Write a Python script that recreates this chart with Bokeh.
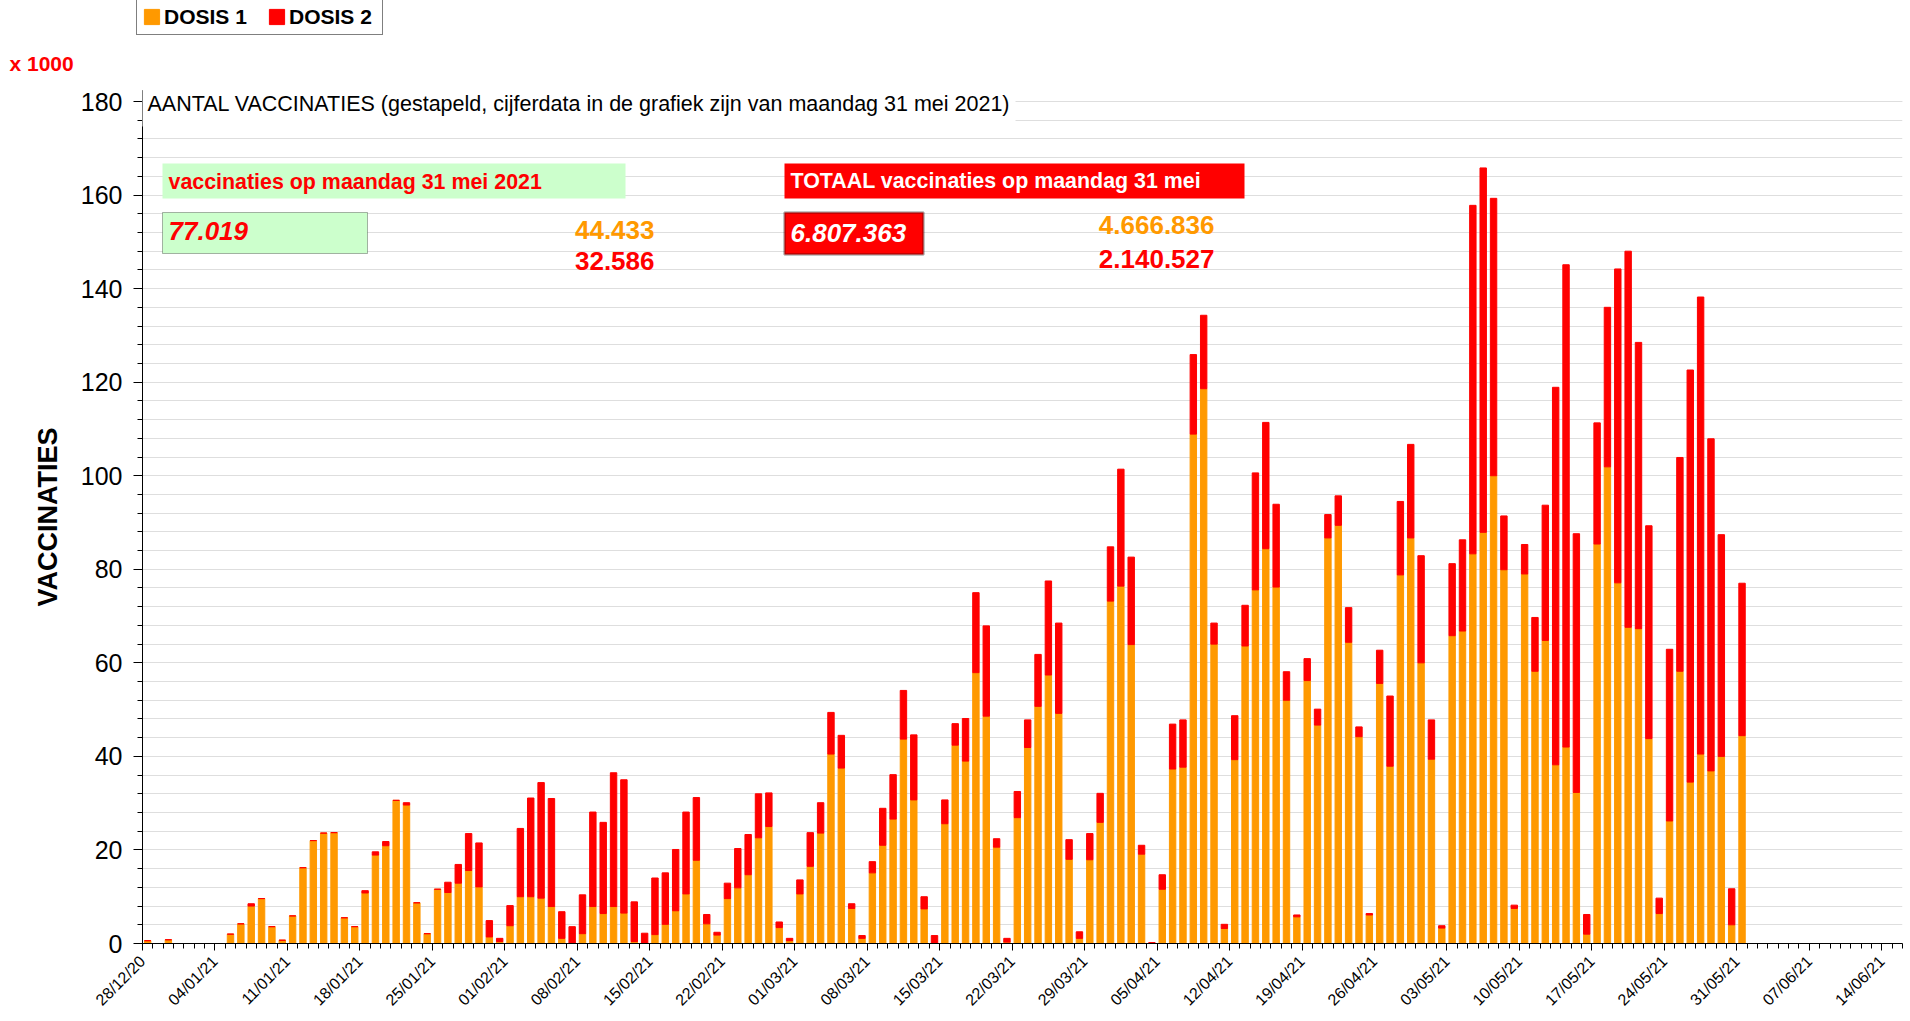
import math
from bokeh.plotting import figure
from bokeh.layouts import column
from bokeh.models import (ColumnDataSource, FixedTicker, Label, BoxAnnotation, Range1d, Legend,
                          LegendItem)
from bokeh.embed import file_html
from bokeh.resources import INLINE

# ---------------- data (x 1000 vaccinaties per dag, vanaf 28/12/2020) ----------------
dosis1 = [
    # dec
    0.6, 0, 0.8, 0,
    # jan
    0, 0, 0, 0, 2.0, 4.2, 8.0, 9.6, 3.6, 0.7, 5.9, 16.2, 22.0, 23.6, 23.7, 5.5, 3.6, 10.8, 18.9, 20.9,
    30.6, 29.6, 8.7, 2.1, 11.6, 10.9, 12.9, 15.6, 12.1, 1.4, 0.4,
    # feb
    3.8, 10.0, 10.0, 9.7, 7.9, 1.1, 0.1, 2.1, 7.9, 6.4, 7.9, 6.5, 0.4, 0, 1.9, 4.1, 7.0, 10.6, 17.8, 4.2,
    1.8, 9.6, 11.9, 14.7, 22.6, 25.0, 3.4, 0.6,
    # mrt
    10.6, 16.5, 23.6, 40.5, 37.5, 7.5, 1.1, 15.1, 21.0, 26.6, 43.7, 30.7, 7.4, 0, 25.6, 42.4, 39.0, 57.9,
    48.6, 20.6, 0.3, 26.9, 41.9, 50.7, 57.4, 49.2, 18.0, 1.1, 17.9, 25.9, 73.2,
    # apr
    76.4, 63.9, 19.1, 0, 11.6, 37.3, 37.7, 108.9, 118.6, 64.0, 3.2, 39.3, 63.6, 75.6, 84.4, 76.2, 52.0,
    5.7, 56.2, 46.7, 86.7, 89.4, 64.4, 44.2, 6.1, 55.6, 37.9, 78.8, 86.7, 60.0,
    # mei
    39.4, 3.3, 65.8, 66.8, 83.3, 87.9, 100.0, 79.9, 7.5, 79.0, 58.2, 64.8, 38.2, 42.0, 32.3, 2.0, 85.4,
    101.9, 77.1, 67.6, 67.3, 43.8, 6.4, 26.2, 58.2, 34.5, 40.5, 36.9, 40.0, 4.0, 44.433,
]
dosis2 = [
    # dec
    0, 0, 0, 0,
    # jan
    0, 0, 0, 0, 0, 0, 0.5, 0, 0, 0, 0, 0, 0, 0, 0, 0, 0, 0.5, 0.7, 0.9, 0, 0.5, 0, 0, 0, 2.2, 4.0, 7.9,
    9.4, 3.5, 0.7,
    # feb
    4.3, 14.6, 21.1, 24.7, 23.1, 5.7, 3.5, 8.3, 20.2, 19.5, 28.6, 28.5, 8.5, 2.2, 12.1, 11.0, 13.1, 17.5,
    13.4, 2.0, 0.6, 3.3, 8.4, 8.6, 9.4, 7.2, 1.2, 0.5,
    # mrt
    3.0, 7.2, 6.5, 8.9, 7.0, 1.0, 0.6, 2.4, 7.9, 9.5, 10.4, 13.9, 2.6, 1.7, 5.1, 4.6, 9.1, 17.1, 19.3,
    1.8, 0.8, 5.6, 5.9, 11.1, 20.1, 19.3, 4.2, 1.4, 5.6, 6.2, 11.6,
    # apr
    25.0, 18.7, 1.9, 0.2, 3.1, 9.6, 10.1, 17.0, 15.7, 4.5, 0.9, 9.4, 8.7, 25.0, 27.0, 17.7, 6.1, 0.4,
    4.7, 3.4, 5.0, 6.3, 7.4, 2.1, 0.3, 7.1, 15.0, 15.7, 20.0, 22.9,
    # mei
    8.4, 0.5, 15.4, 19.5, 74.5, 77.9, 59.3, 11.5, 0.7, 6.3, 11.5, 28.9, 80.7, 103.1, 55.3, 4.2, 25.9,
    34.1, 67.1, 80.4, 61.2, 45.5, 3.3, 36.7, 45.7, 88.1, 97.7, 71.0, 47.4, 7.7, 32.586,
]
week_labels = ["28/12/20", "04/01/21", "11/01/21", "18/01/21", "25/01/21", "01/02/21", "08/02/21",
               "15/02/21", "22/02/21", "01/03/21", "08/03/21", "15/03/21", "22/03/21", "29/03/21",
               "05/04/21", "12/04/21", "19/04/21", "26/04/21", "03/05/21", "10/05/21", "17/05/21",
               "24/05/21", "31/05/21", "07/06/21", "14/06/21"]
n_axis_days = 170
y_ticks = [0, 20, 40, 60, 80, 100, 120, 140, 160, 180]
y_minor = list(range(0, 181, 4))

dag_totaal = "77.019"
dag_d1 = "44.433"
dag_d2 = "32.586"
tot_totaal = "6.807.363"
tot_d1 = "4.666.836"
tot_d2 = "2.140.527"

ORANGE = "#FF9900"
RED = "#FF0000"
FONT = "Liberation Sans"

W, H = 1910, 1021
HEADER_H = 80
# main frame geometry (page pixels)
FR_LEFT, FR_RIGHT, FR_TOP, FR_BOTTOM = 142, 1902, 90, 943
PX_PER_DAY = (FR_RIGHT - FR_LEFT) / n_axis_days
PX_PER_UNIT = (FR_BOTTOM - 101) / 180.0
Y_MAX = 180 + (101 - FR_TOP) / PX_PER_UNIT

src = ColumnDataSource(dict(x=[i + 0.5 for i in range(len(dosis1))], d1=dosis1, d2=dosis2))

# ---------------- header strip: legend + "x 1000" ----------------
HX0 = 1000
hdr = figure(width=W, height=HEADER_H, output_backend="svg", toolbar_location=None, title=None,
             x_range=Range1d(HX0, HX0 + W), y_range=Range1d(HX0, HX0 + HEADER_H),
             x_axis_location=None, y_axis_location=None, min_border=0)
hdr.outline_line_color = None
hdr.grid.visible = False
# legend swatches only: hidden copy of the series
hbars = hdr.vbar_stack(["d1", "d2"], x="x", width=0.62, color=[ORANGE, RED], source=src)
for r in hbars:
    r.visible = False
lg = Legend(items=[LegendItem(label="DOSIS 1", renderers=[hbars[0]]),
                   LegendItem(label="DOSIS 2", renderers=[hbars[1]])],
            orientation="horizontal", location=(136, HEADER_H - 35))
lg.label_text_font = FONT
lg.label_text_font_style = "bold"
lg.label_text_font_size = "21px"
lg.label_text_color = "black"
lg.glyph_width = 19
lg.glyph_height = 19
lg.label_height = 25
lg.label_width = 88
lg.label_standoff = 3
lg.spacing = 15
lg.padding = 5
lg.margin = 0
lg.border_line_color = "black"
lg.border_line_width = 1
lg.background_fill_color = "white"
lg.background_fill_alpha = 1
lg.inactive_fill_alpha = 0
hdr.add_layout(lg, "center")
hdr.add_layout(Label(x=HX0 + 9, y=HX0 + HEADER_H - 63, text="x 1000", text_font=FONT,
                     text_font_size="21px", text_font_style="bold", text_color=RED,
                     text_baseline="middle"))

# ---------------- main chart ----------------
p = figure(width=W, height=H - HEADER_H, output_backend="svg", toolbar_location=None, title=None,
           x_range=Range1d(0, n_axis_days), y_range=Range1d(0, Y_MAX),
           min_border_left=FR_LEFT, min_border_top=FR_TOP - HEADER_H, min_border_right=W - FR_RIGHT,
           min_border_bottom=H - FR_BOTTOM)
p.outline_line_color = None
p.background_fill_color = "white"

for fig in (hdr, p):
    try:
        fig.frame_align = False
    except Exception:
        pass

p.vbar_stack(["d1", "d2"], x="x", width=0.62, color=[ORANGE, RED], source=src)

# y axis
p.yaxis.ticker = FixedTicker(ticks=y_ticks, minor_ticks=y_minor)
p.yaxis.major_label_text_font = FONT
p.yaxis.major_label_text_font_size = "25px"
p.yaxis.major_label_text_color = "black"
p.yaxis.major_tick_out = 9
p.yaxis.major_tick_in = 0
p.yaxis.minor_tick_out = 5
p.yaxis.minor_tick_in = 0
p.yaxis.major_label_standoff = 11
p.yaxis.axis_line_color = "black"
p.yaxis.axis_label = "VACCINATIES"
p.yaxis.axis_label_text_font = FONT
p.yaxis.axis_label_text_font_style = "bold"
p.yaxis.axis_label_text_font_size = "27px"
p.yaxis.axis_label_text_color = "black"
p.yaxis.axis_label_standoff = 15

p.ygrid.grid_line_color = "#dedede"
p.ygrid.minor_grid_line_color = "#dedede"
p.xgrid.grid_line_color = None

# x axis
p.xaxis.ticker = FixedTicker(ticks=list(range(0, 7 * len(week_labels), 7)),
                             minor_ticks=list(range(0, n_axis_days + 1)))
p.xaxis.major_label_overrides = {i * 7: lbl for i, lbl in enumerate(week_labels)}
p.xaxis.major_label_orientation = math.pi / 4
p.xaxis.major_label_text_font = FONT
p.xaxis.major_label_text_font_size = "16px"
p.xaxis.major_label_text_color = "black"
p.xaxis.major_tick_out = 7
p.xaxis.major_tick_in = 0
p.xaxis.minor_tick_out = 5
p.xaxis.minor_tick_in = 0
p.xaxis.major_label_standoff = 8
p.xaxis.axis_line_color = "black"


def px_x(px):
    return (px - FR_LEFT) / PX_PER_DAY


def px_y(py):
    return (FR_BOTTOM - py) / PX_PER_UNIT


# title row (white background hides grid/axis top)
p.add_layout(BoxAnnotation(left=-0.3, right=px_x(1015), bottom=px_y(126), top=Y_MAX,
                           fill_color="white", fill_alpha=1, line_color=None))
p.add_layout(Label(x=px_x(147), y=px_y(103),
                   text="AANTAL VACCINATIES (gestapeld, cijferdata in de grafiek zijn van maandag 31 mei 2021)",
                   text_font=FONT, text_font_size="21.5px", text_baseline="middle", text_color="black"))

# day boxes
p.add_layout(BoxAnnotation(left=px_x(162), right=px_x(625), bottom=px_y(198), top=px_y(163),
                           fill_color="#CCFFCC", fill_alpha=1, line_color=None))
p.add_layout(Label(x=px_x(168), y=px_y(181), text="vaccinaties op maandag 31 mei 2021",
                   text_font=FONT, text_font_size="21.4px", text_font_style="bold",
                   text_color=RED, text_baseline="middle"))
p.add_layout(BoxAnnotation(left=px_x(162), right=px_x(367), bottom=px_y(253), top=px_y(212),
                           fill_color="#CCFFCC", fill_alpha=1, line_color="black", line_width=1))
p.add_layout(Label(x=px_x(168), y=px_y(230), text=dag_totaal, text_font=FONT, text_font_size="26px",
                   text_font_style="bold italic", text_color=RED, text_baseline="middle"))
p.add_layout(Label(x=px_x(654), y=px_y(229), text=dag_d1, text_font=FONT, text_font_size="26px",
                   text_font_style="bold", text_color=ORANGE, text_baseline="middle", text_align="right"))
p.add_layout(Label(x=px_x(654), y=px_y(260), text=dag_d2, text_font=FONT, text_font_size="26px",
                   text_font_style="bold", text_color=RED, text_baseline="middle", text_align="right"))

# totaal boxes
p.add_layout(BoxAnnotation(left=px_x(784), right=px_x(1244), bottom=px_y(198), top=px_y(163),
                           fill_color=RED, fill_alpha=1, line_color=None))
p.add_layout(Label(x=px_x(790), y=px_y(180), text="TOTAAL vaccinaties op maandag 31 mei",
                   text_font=FONT, text_font_size="21.4px", text_font_style="bold",
                   text_color="white", text_baseline="middle"))
p.add_layout(BoxAnnotation(left=px_x(784), right=px_x(923), bottom=px_y(254), top=px_y(212),
                           fill_color=RED, fill_alpha=1, line_color="black", line_width=2.5))
p.add_layout(Label(x=px_x(790), y=px_y(232), text=tot_totaal, text_font=FONT, text_font_size="26px",
                   text_font_style="bold italic", text_color="white", text_baseline="middle"))
p.add_layout(Label(x=px_x(1214), y=px_y(224), text=tot_d1, text_font=FONT, text_font_size="26px",
                   text_font_style="bold", text_color=ORANGE, text_baseline="middle", text_align="right"))
p.add_layout(Label(x=px_x(1214), y=px_y(258), text=tot_d2, text_font=FONT, text_font_size="26px",
                   text_font_style="bold", text_color=RED, text_baseline="middle", text_align="right"))

page = column(hdr, p, spacing=0)
open("out.html", "w").write(file_html(page, INLINE))
